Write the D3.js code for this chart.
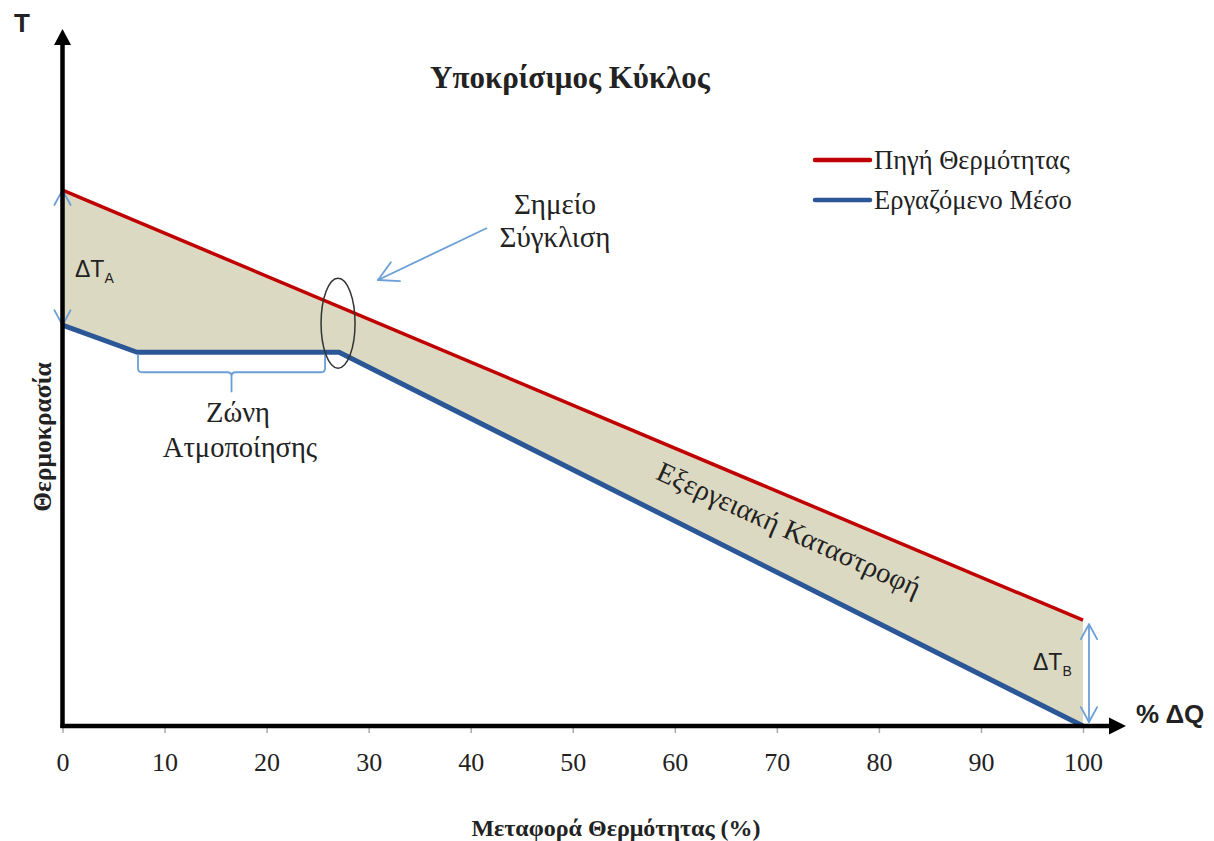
<!DOCTYPE html>
<html>
<head>
<meta charset="utf-8">
<script src="https://cdn.jsdelivr.net/npm/d3@7"></script>
<style>
  body { margin: 0; background: #fff; }
  svg { display: block; }
  .serif { font-family: "Liberation Serif", "DejaVu Serif", serif; fill: #222; }
  .sans { font-family: "Liberation Sans", Arial, sans-serif; fill: #222; }
</style>
</head>
<body>
<div id="chart"></div>
<script>
// heat transferred, % of total
const xTicks = [0, 10, 20, 30, 40, 50, 60, 70, 80, 90, 100];

// heat source line (red)
const sourceQ = [0, 100];
const sourceT = [77, 15.2];

// working fluid line (blue) - preheat, evaporation plateau, then cooling
const fluidQ = [0, 7.3, 27.1, 100];
const fluidT = [57.6, 53.7, 53.7, 0];

const seriesNames = ['Πηγή Θερμότητας', 'Εργαζόμενο Μέσο'];
const seriesColors = ['#c00000', '#2b5797'];

// ******************** MAIN SVG ******************** //
const WIDTH = 1214, HEIGHT = 841;
const svg = d3.select('#chart').append('svg')
    .attr('width', WIDTH).attr('height', HEIGHT);

const x = d3.scaleLinear().domain([0, 100]).range([62.5, 1083]);
const y = d3.scaleLinear().domain([0, 100]).range([726, 30]);

const source = sourceQ.map((q, i) => ({ q: q, t: sourceT[i] }));
const fluid = fluidQ.map((q, i) => ({ q: q, t: fluidT[i] }));

const line = d3.line().x(d => x(d.q)).y(d => y(d.t));

// FILL BETWEEN LINES (exergy destruction)
const poly = source.concat(fluid.slice().reverse());
svg.append('path')
    .attr('d', line(poly) + 'Z')
    .attr('fill', '#dcd9c2');

// LINES
svg.append('path').attr('d', line(fluid))
    .attr('fill', 'none').attr('stroke', seriesColors[1]).attr('stroke-width', 5)
    .attr('stroke-linejoin', 'round');
svg.append('path').attr('d', line(source))
    .attr('fill', 'none').attr('stroke', seriesColors[0]).attr('stroke-width', 3.5);

// X AXIS TICKS
const xAxisCall = d3.axisBottom(x)
    .tickValues(xTicks)
    .tickSizeInner(7)
    .tickSizeOuter(0)
    .tickPadding(20)
    .tickFormat(d3.format('d'));

const xAxis = svg.append('g')
    .attr('transform', `translate(0, ${y(0)})`)
    .call(xAxisCall);
xAxis.select('.domain').remove();
xAxis.selectAll('.tick line').attr('stroke', '#aaa').attr('stroke-width', 1.5);
xAxis.selectAll('.tick text')
    .attr('class', 'serif')
    .style('font-size', '26px')
    .attr('fill', '#222');

// ******************** ANNOTATIONS ******************** //
const annoBlue = '#6b9fd6';

function openHead(g, tipX, tipY, angle, len) {
    // open V arrow head, angle = direction of travel in radians
    const spread = 0.5;
    const pts = [angle + Math.PI - spread, angle + Math.PI + spread];
    pts.forEach(a => {
        g.append('line')
            .attr('x1', tipX).attr('y1', tipY)
            .attr('x2', tipX + len * Math.cos(a)).attr('y2', tipY + len * Math.sin(a))
            .attr('stroke', annoBlue).attr('stroke-width', 1.8).attr('stroke-linecap', 'round');
    });
}

const anno = svg.append('g');

// ΔT_A double arrow on the y axis
const aTop = y(sourceT[0]), aBot = y(fluidT[0]);
anno.append('line').attr('x1', x(0)).attr('x2', x(0)).attr('y1', aTop).attr('y2', aBot)
    .attr('stroke', annoBlue).attr('stroke-width', 1.8);
openHead(anno, x(0), aTop, -Math.PI / 2, 17);
openHead(anno, x(0), aBot, Math.PI / 2, 17);

// ΔT_B double arrow at the pinch end
const bX = x(100) + 6;
const bTop = y(sourceT[1]) + 4, bBot = y(fluidT[3]) - 4;
anno.append('line').attr('x1', bX).attr('x2', bX).attr('y1', bTop).attr('y2', bBot)
    .attr('stroke', annoBlue).attr('stroke-width', 1.8);
openHead(anno, bX, bTop, -Math.PI / 2, 17);
openHead(anno, bX, bBot, Math.PI / 2, 17);

// brace under evaporation zone
const bx1 = x(fluidQ[1]) + 1, bx2 = x(fluidQ[2]) - 14, by = y(fluidT[1]) + 2;
const bmid = (bx1 + bx2) / 2;
anno.append('path')
    .attr('d', `M${bx1},${by} L${bx1},${by + 14} Q${bx1},${by + 18} ${bx1 + 4},${by + 18}
        L${bmid - 4},${by + 18} Q${bmid},${by + 18} ${bmid},${by + 22} L${bmid},${by + 38}
        M${bmid},${by + 22} Q${bmid},${by + 18} ${bmid + 4},${by + 18}
        L${bx2 - 4},${by + 18} Q${bx2},${by + 18} ${bx2},${by + 14} L${bx2},${by}`)
    .attr('fill', 'none').attr('stroke', annoBlue).attr('stroke-width', 1.8);

// pinch point ellipse
anno.append('ellipse')
    .attr('cx', x(fluidQ[2]) - 1).attr('cy', y(fluidT[2]) - 29)
    .attr('rx', 17).attr('ry', 45)
    .attr('fill', 'none').attr('stroke', '#333').attr('stroke-width', 1.5);

// pointer arrow to pinch
const p1 = [487, 228], p2 = [378, 280];
anno.append('line').attr('x1', p1[0]).attr('y1', p1[1]).attr('x2', p2[0]).attr('y2', p2[1])
    .attr('stroke', annoBlue).attr('stroke-width', 1.8);
openHead(anno, p2[0], p2[1], Math.atan2(p2[1] - p1[1], p2[0] - p1[0]), 22);

// ******************** AXES ******************** //
svg.append('line').attr('x1', x(0)).attr('x2', x(0)).attr('y1', y(0) + 2).attr('y2', 42)
    .attr('stroke', '#000').attr('stroke-width', 4.5);
svg.append('path').attr('d', `M${x(0) - 8.5},45 L${x(0)},29 L${x(0) + 8.5},45 Z`).attr('fill', '#000');

svg.append('line').attr('x1', x(0) - 2).attr('x2', 1112).attr('y1', y(0)).attr('y2', y(0))
    .attr('stroke', '#000').attr('stroke-width', 4.5);
svg.append('path').attr('d', `M1109,${y(0) - 8.5} L1126,${y(0)} L1109,${y(0) + 8.5} Z`).attr('fill', '#000');

// ******************** TEXT ******************** //
svg.append('text').attr('class', 'sans').attr('x', 14).attr('y', 32)
    .style('font-size', '26px').style('font-weight', 'bold').attr('fill', '#000').text('T');

svg.append('text').attr('class', 'sans').attr('x', 1136).attr('y', 723)
    .style('font-size', '26px').style('font-weight', 'bold').attr('fill', '#000').text('% ΔQ');

svg.append('text').attr('class', 'serif').attr('x', 570).attr('y', 88)
    .attr('text-anchor', 'middle').style('font-size', '31px').style('font-weight', 'bold')
    .text('Υποκρίσιμος Κύκλος');

svg.append('text').attr('class', 'serif').attr('x', 616).attr('y', 836)
    .attr('text-anchor', 'middle').style('font-size', '24px').style('font-weight', 'bold')
    .text('Μεταφορά Θερμότητας (%)');

svg.append('text').attr('class', 'serif')
    .attr('transform', 'translate(51, 437) rotate(-90)')
    .attr('text-anchor', 'middle').style('font-size', '25.5px').style('font-weight', 'bold')
    .text('Θερμοκρασία');

// legend
const legend = svg.append('g').attr('transform', 'translate(815, 160)');
seriesNames.forEach((name, i) => {
    legend.append('line').attr('x1', 0).attr('x2', 55).attr('y1', i * 40).attr('y2', i * 40)
        .attr('stroke', seriesColors[i]).attr('stroke-width', 4.5).attr('stroke-linecap', 'round');
    legend.append('text').attr('class', 'serif').attr('x', 59).attr('y', i * 40 + 9)
        .style('font-size', '26.5px').text(name);
});

// text labels
const t1 = svg.append('text').attr('class', 'serif').attr('text-anchor', 'middle').style('font-size', '29px');
t1.append('tspan').attr('x', 555).attr('y', 214).text('Σημείο');
t1.append('tspan').attr('x', 555).attr('y', 247).text('Σύγκλιση');

const t2 = svg.append('text').attr('class', 'serif').attr('text-anchor', 'middle').style('font-size', '28.5px');
t2.append('tspan').attr('x', 238).attr('y', 422).text('Ζώνη');
t2.append('tspan').attr('x', 240).attr('y', 457).text('Ατμοποίησης');

svg.append('text').attr('class', 'serif')
    .attr('transform', 'translate(785, 538) rotate(24.5)')
    .attr('text-anchor', 'middle').style('font-size', '28.5px')
    .text('Εξεργειακή Καταστροφή');

function deltaT(px, py, sub) {
    const t = svg.append('text').attr('class', 'sans').attr('x', px).attr('y', py).style('font-size', '23px');
    t.append('tspan').text('ΔT');
    t.append('tspan').attr('dy', 6).style('font-size', '14px').text(sub);
}
deltaT(75, 277, 'A');
deltaT(1033, 670, 'B');
</script>
</body>
</html>
